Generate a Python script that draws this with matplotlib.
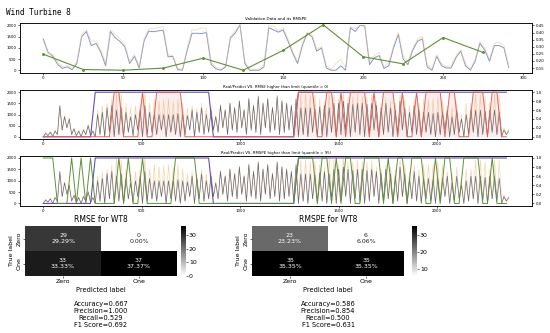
import numpy as np
import matplotlib
matplotlib.use("Agg")
import matplotlib.pyplot as plt
import seaborn as sns

# ---- validation window (panel 1), sampled every 3 steps ----
val_step = 3
val_real = [1400, 800, 620, 260, 80, 150, 20, 300, 1500, 1730, 1100, 1200, 800, 200,
            1730, 1450, 1280, 1050, 300, 620, 100, 1300, 1750, 1720, 1760, 1780, 600,
            620, 30, 0, 900, 1650, 1650, 1640, 1680, 250, 60, 0, 150, 1440, 1660, 2030,
            300, 0, 0, 0, 150, 1900, 1800, 1700, 1800, 1300, 750, 300, 1100, 1650, 1500,
            850, 1000, 100, 0, 0, 200, 0, 1900, 1730, 2000, 1980, 250, 560, 650, 80, 200,
            1000, 1600, 500, 250, 900, 1300, 1400, 150, 0, 620, 200, 100, 100, 560, 850,
            200, 0, 400, 1200, 900, 400, 1100, 1100, 1000, 120]
val_pred = [1300, 750, 700, 350, 150, 200, 100, 400, 1600, 1800, 1300, 1300, 900, 350,
            1800, 1600, 1400, 1150, 400, 700, 200, 1400, 1850, 1850, 1900, 1950, 700,
            650, 100, 50, 1000, 1800, 1800, 1900, 1850, 350, 150, 50, 200, 1500, 1750, 2000,
            400, 50, 50, 50, 250, 2000, 1950, 1750, 1900, 1400, 850, 400, 1200, 1700, 1600,
            950, 1050, 200, 50, 300, 500, 100, 1950, 1850, 2000, 1950, 400, 650, 800, 150, 350,
            1100, 1700, 650, 350, 1000, 1400, 1500, 250, 50, 700, 300, 150, 200, 650, 900,
            300, 50, 500, 1300, 1000, 500, 1200, 1250, 1100, 200]
rmspe_step = 25
rmspe_vals = [0.248, 0.14, 0.135, 0.15, 0.22, 0.135, 0.275, 0.455, 0.23, 0.18, 0.365, 0.26]
rmspe_ticks = [0.15, 0.20, 0.25, 0.30, 0.35, 0.40, 0.45]

# ---- full series (panels 2 and 3), one trough and one peak per 24-step window ----
win = 24
real_peak = [150, 200, 250, 1400, 900, 800, 350, 250, 300, 500, 250,
             1000, 1100, 1300, 1400, 1200, 1300, 1100, 900, 1000,
             1200, 1400, 1100,
             1000, 1000, 1000, 1000, 1000, 1050, 1000, 950,
             1200, 1100, 1300, 1000, 1200,
             900, 1400, 1200, 1500, 1300, 1600, 1200, 1700, 1400, 1800, 1500, 1700, 1300,
             1800, 1600, 1500, 1400, 1700,
             1300, 1300, 1300, 1250, 1350,
             1400, 1300, 1500,
             1500, 1600, 1500, 1450,
             1500, 1500, 1450, 1500, 1400, 1300, 1500,
             1300, 1200, 1600, 1300, 1100, 1400, 1200,
             1100, 1100, 1050, 1100, 1100, 1200,
             900, 1200, 800, 1000, 1200,
             1200, 1200, 1150, 1200, 1200, 1100,
             300, 250]
real_trough = [0, 50, 0, 100, 300, 400, 100, 50, 0, 100, 50,
               0, 100, 0, 200, 0, 100, 0, 200, 50,
               300, 0, 100,
               200, 100, 300, 0, 200, 100, 0, 100,
               300, 0, 200, 100, 200,
               300, 200, 400, 100, 300, 200, 400, 100, 300, 200, 100, 400, 200,
               300, 100, 200, 300, 100,
               0, 100, 0, 200, 0,
               100, 0, 200,
               0, 100, 300, 0,
               200, 100, 0, 100, 300, 0, 100,
               200, 0, 100, 300, 0, 200, 100,
               0, 200, 100, 0, 100, 300,
               0, 100, 200, 0, 100,
               200, 0, 100, 0, 200, 100,
               0, 100]
pred_peak = [200, 250, 300, 1350, 950, 850, 400, 300, 350, 550, 300,
             1200, 1400, 1500, 1700, 2000, 1900, 1500, 1300, 1400,
             1500, 2000, 1500,
             1700, 1600, 1650, 1700, 1600, 1700, 1500, 1300,
             1400, 1300, 1500, 1300, 1400,
             950, 1450, 1250, 1550, 1350, 1650, 1250, 1750, 1450, 1850, 1550, 1750, 1350,
             1850, 1650, 1550, 1450, 1750,
             1900, 1900, 1850, 1850, 1700,
             1600, 2000, 1900,
             1700, 2000, 1800, 1800,
             1900, 1800, 1800, 1900, 1600, 1500, 1700,
             1600, 1500, 1900, 1700, 1400, 1700, 1500,
             1700, 1700, 1700, 1800, 1700, 1400,
             1300, 1600, 1000, 1500, 1500,
             1900, 1900, 1800, 1500, 1900, 1900,
             400, 350]

# window labels (99 windows): true label and the two predicted labels
true_label = ([0] * 11 + [1] * 25 + [0] * 18 + [1] * 45)
rmse_pred = [0, 0, 0, 0, 0, 0, 0, 0, 0, 0, 0, 0, 0, 0, 0, 1, 1, 0, 0, 0,
             0, 1, 0, 0, 1, 1, 1, 1, 1, 1, 0, 0, 0, 0, 0, 0, 0, 0, 0, 0,
             0, 0, 0, 0, 0, 0, 0, 0, 0, 0, 0, 0, 0, 0, 1, 1, 1, 1, 0, 0,
             1, 1, 0, 1, 0, 1, 1, 1, 1, 0, 1, 0, 1, 1, 1, 0, 1, 0, 0, 1,
             0, 1, 1, 1, 1, 0, 1, 1, 0, 0, 0, 1, 1, 1, 0, 1, 1, 0, 0]
rmspe_pred = [1, 1, 1, 0, 0, 0, 1, 0, 1, 0, 1, 0, 0, 0, 0, 0, 1, 0, 1, 0,
              0, 1, 0, 0, 0, 0, 0, 0, 1, 1, 1, 1, 1, 0, 0, 0, 0, 0, 0, 0,
              0, 0, 0, 0, 0, 0, 0, 0, 0, 0, 0, 0, 0, 0, 1, 1, 1, 1, 0, 1,
              1, 0, 1, 0, 1, 1, 0, 0, 1, 1, 1, 1, 0, 1, 0, 1, 1, 0, 1, 1,
              1, 0, 0, 1, 0, 1, 1, 0, 0, 1, 1, 1, 1, 0, 0, 1, 0, 0, 0]

# confusion matrices
categories = ["Zero", "One"]
cm_rmse = [[29, 0], [33, 37]]
cm_rmspe = [[23, 6], [35, 35]]

plt.rcParams["font.family"] = "DejaVu Sans"
fig = plt.figure(figsize=(5.5, 3.33), dpi=100)
fig.text(0.01, 0.962, "Wind Turbine 8", family="DejaVu Sans Mono", fontsize=5.5, va="center")

W, H = 550.0, 333.0


def box(x0, y0, x1, y1):
    return [x0 / W, 1 - y1 / H, (x1 - x0) / W, (y1 - y0) / H]


def style(ax):
    ax.tick_params(labelsize=2.8, length=1.5, width=0.4, pad=1)
    for s in ax.spines.values():
        s.set_linewidth(0.5)


# panel 1
ax1 = fig.add_axes(box(20, 22.5, 532, 72.5))
xv = np.arange(len(val_real)) * val_step
ax1.plot(xv, val_real, color="#6a86c6", lw=0.7, alpha=0.85)
ax1.plot(xv, val_pred, color="#f6c27f", lw=0.7, alpha=0.5)
ax1b = ax1.twinx()
xr = np.arange(len(rmspe_vals)) * rmspe_step
ax1b.plot(xr, rmspe_vals, color="#5f913a", lw=0.8, marker="o", ms=1.1)
ax1b.set_yticks(rmspe_ticks)
ax1b.set_yticklabels([f"{t:.2f}" for t in rmspe_ticks])
ax1.set_title("Validation Data and its RMSPE", fontsize=3, pad=1.5)
style(ax1)
style(ax1b)

# series for panels 2/3
xs = np.arange(2 * len(real_peak)) * (win // 2)
real_series = np.column_stack([real_trough, real_peak]).ravel()
pred_series = np.column_stack([real_trough, pred_peak]).ravel()
xl = np.arange(len(true_label)) * win


def series_panel(y0, y1, pred_lab, pred_color, title, fill):
    ax = fig.add_axes(box(20, y0, 532, y1))
    ax.plot(xs, pred_series, color="#f5b060", lw=0.5, alpha=0.55)
    ax.plot(xs, real_series, color="#454b63", lw=0.5, alpha=0.8)
    axb = ax.twinx()
    axb.plot(xl, true_label, color="#6a4fb3", lw=0.8)
    axb.plot(xl, pred_lab, color=pred_color, lw=0.7)
    if fill:
        axb.fill_between(xl, 0, pred_lab, color=pred_color, alpha=0.1, lw=0)
    ax.set_title(title, fontsize=2.8, pad=1.5)
    style(ax)
    style(axb)
    return ax


series_panel(90, 139, rmse_pred, "#e0625a",
             "Real/Predict VS. RMSE higher than limit (quantile = 0)", True)
series_panel(155.7, 205.7, rmspe_pred, "#5f913a",
             "Real/Predict VS. RMSPE higher than limit (quantile = 95)", False)


def conf_panel(x0, cx0, cm, title):
    ax = fig.add_axes(box(x0, 226, x0 + 152, 276))
    cax = fig.add_axes(box(cx0, 226, cx0 + 4.5, 276))
    cm = np.array(cm)
    total = cm.sum()
    labels = np.array([f"{v}\n{v / total:.2%}" for v in cm.ravel()]).reshape(2, 2)
    sns.heatmap(cm, annot=labels, fmt="", cmap="binary", ax=ax, cbar_ax=cax,
                xticklabels=categories, yticklabels=categories,
                annot_kws={"fontsize": 4.5})
    tn, fp, fn, tp = cm.ravel()
    acc = (tn + tp) / total
    prec = tp / (tp + fp)
    rec = tp / (tp + fn)
    f1 = 2 * prec * rec / (prec + rec)
    stats = f"\n\nAccuracy={acc:.3f}\nPrecision={prec:.3f}\nRecall={rec:.3f}\nF1 Score={f1:.3f}"
    ax.set_xlabel("Predicted label" + stats, fontsize=4.8, labelpad=2)
    ax.set_ylabel("True label", fontsize=4.5, labelpad=2)
    ax.set_title(title, fontsize=5.5, pad=3)
    ax.tick_params(labelsize=4.5, length=1.5, width=0.4, pad=1)
    plt.setp(ax.get_yticklabels(), rotation=90, va="center")
    cax.tick_params(labelsize=4.5, length=1.5, width=0.4, pad=1)


conf_panel(25, 181, cm_rmse, "RMSE for WT8")
conf_panel(252, 412, cm_rmspe, "RMSPE for WT8")

fig.savefig("out.png", dpi=100)
